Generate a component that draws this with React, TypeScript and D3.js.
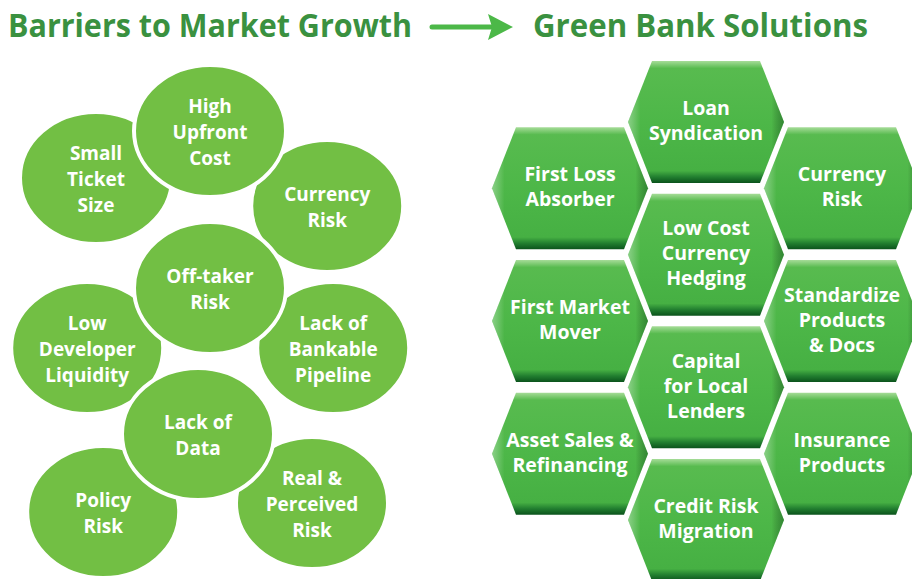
import * as d3 from "d3";
import React from "react";

// left panel: barriers (drawn as ellipses)
const barrierLabels = [
	["Small", "Ticket", "Size"],
	["Currency", "Risk"],
	["Low", "Developer", "Liquidity"],
	["Lack of", "Bankable", "Pipeline"],
	["Policy", "Risk"],
	["Real &", "Perceived", "Risk"],
	["High", "Upfront", "Cost"],
	["Off-taker", "Risk"],
	["Lack of", "Data"],
];
// relative layout units (0..10 wide, 0..10 tall) for each barrier
const barrierGridX = [2.4, 8.18, 2.18, 8.33, 2.58, 7.8, 5.25, 5.25, 4.95];
const barrierGridY = [1.56, 2.12, 4.96, 4.96, 8.24, 8.06, 0.62, 3.76, 6.68];

// right panel: solutions (drawn as hexagons on a hex grid)
const solutionLabels = [
	["Loan", "Syndication"],
	["First Loss", "Absorber"],
	["Currency", "Risk"],
	["Low Cost", "Currency", "Hedging"],
	["First Market", "Mover"],
	["Standardize", "Products", "& Docs"],
	["Capital", "for Local", "Lenders"],
	["Asset Sales &", "Refinancing"],
	["Insurance", "Products"],
	["Credit Risk", "Migration"],
];
const solutionCol = [1, 0, 2, 1, 0, 2, 1, 0, 2, 1];
const solutionRow = [0, 0.5, 0.5, 1, 1.5, 1.5, 2, 2.5, 2.5, 3];

const titleLeft = "Barriers to Market Growth";
const titleRight = "Green Bank Solutions";

export default function App() {
	const svgRef = React.useRef<SVGSVGElement>(null);
	const width = 912;
	const height = 579;

	React.useEffect(() => {
		document.body.style.margin = "0";
		if (!svgRef.current) return;
		const svg = d3.select(svgRef.current);
		svg.selectAll("*").remove();

		const font = "'Open Sans', 'Noto Sans', sans-serif";

		// gradients for hexagons
		const defs = svg.append("defs");
		const grad = defs
			.append("linearGradient")
			.attr("id", "hexGrad")
			.attr("x1", 0)
			.attr("y1", 0)
			.attr("x2", 0)
			.attr("y2", 1);
		[
			[0, "#a6dc98"],
			[0.06, "#58bb4f"],
			[0.5, "#4db748"],
			[0.9, "#46b043"],
			[0.95, "#227f30"],
			[1, "#0b531c"],
		].forEach(([o, c]) =>
			grad.append("stop").attr("offset", o as number).attr("stop-color", c as string),
		);
		const sideGrad = defs
			.append("linearGradient")
			.attr("id", "hexSide")
			.attr("x1", 0)
			.attr("y1", 0)
			.attr("x2", 1)
			.attr("y2", 0);
		[
			[0, "#ffffff", 0.35],
			[0.08, "#ffffff", 0],
			[0.92, "#000000", 0],
			[1, "#003010", 0.35],
		].forEach(([o, c, a]) =>
			sideGrad
				.append("stop")
				.attr("offset", o as number)
				.attr("stop-color", c as string)
				.attr("stop-opacity", a as number),
		);

		// titles
		svg
			.append("text")
			.attr("x", 8)
			.attr("y", 37)
			.attr("font-family", font)
			.attr("font-weight", 700)
			.attr("font-size", 33)
			.attr("fill", "#3a9140")
			.attr("textLength", 404)
			.attr("lengthAdjust", "spacingAndGlyphs")
			.text(titleLeft);
		svg
			.append("text")
			.attr("x", 533)
			.attr("y", 37)
			.attr("font-family", font)
			.attr("font-weight", 700)
			.attr("font-size", 33)
			.attr("fill", "#3a9140")
			.attr("textLength", 335)
			.attr("lengthAdjust", "spacingAndGlyphs")
			.text(titleRight);

		// arrow
		svg
			.append("line")
			.attr("x1", 432)
			.attr("x2", 492)
			.attr("y1", 27)
			.attr("y2", 27)
			.attr("stroke", "#4cb848")
			.attr("stroke-width", 5)
			.attr("stroke-linecap", "round");
		svg
			.append("path")
			.attr("d", "M488,14 L513,27 L488,40 L492,27 Z")
			.attr("fill", "#4cb848");

		// barriers
		const bx = d3.scaleLinear().domain([0, 10]).range([0, 400]);
		const by = d3.scaleLinear().domain([0, 10]).range([100, 600]);
		const rx = 76;
		const ry = 66;
		const bg = svg.append("g");
		barrierLabels.forEach((lines, i) => {
			const cx = bx(barrierGridX[i]);
			const cy = by(barrierGridY[i]);
			bg.append("ellipse")
				.attr("cx", cx)
				.attr("cy", cy)
				.attr("rx", rx)
				.attr("ry", ry)
				.attr("fill", "#72bf44")
				.attr("stroke", "#ffffff")
				.attr("stroke-width", 4);
			const lh = 26;
			lines.forEach((l, j) => {
				bg.append("text")
					.attr("x", cx)
					.attr("y", cy + (j - (lines.length - 1) / 2) * lh + 1)
					.attr("text-anchor", "middle")
					.attr("dominant-baseline", "central")
					.attr("font-family", font)
					.attr("font-weight", 700)
					.attr("font-size", 19)
					.attr("fill", "#ffffff")
					.text(l);
			});
		});

		// solutions
		const hx = d3.scaleLinear().domain([0, 2]).range([570, 842]);
		const hy = d3.scaleLinear().domain([0, 3]).range([122, 520]);
		const hw = 78;
		const hh = 61;
		const inset = 24;
		const hexPath = (cx: number, cy: number) => {
			const p = d3.path();
			p.moveTo(cx - hw, cy);
			p.lineTo(cx - hw + inset, cy - hh);
			p.lineTo(cx + hw - inset, cy - hh);
			p.lineTo(cx + hw, cy);
			p.lineTo(cx + hw - inset, cy + hh);
			p.lineTo(cx - hw + inset, cy + hh);
			p.closePath();
			return p.toString();
		};
		const hg = svg.append("g");
		solutionLabels.forEach((lines, i) => {
			const cx = hx(solutionCol[i]);
			const cy = hy(solutionRow[i]);
			hg.append("path").attr("d", hexPath(cx, cy)).attr("fill", "url(#hexGrad)");
			hg.append("path").attr("d", hexPath(cx, cy)).attr("fill", "url(#hexSide)");
			const lh = 25;
			lines.forEach((l, j) => {
				hg.append("text")
					.attr("x", cx)
					.attr("y", cy + (j - (lines.length - 1) / 2) * lh - 2)
					.attr("text-anchor", "middle")
					.attr("dominant-baseline", "central")
					.attr("font-family", font)
					.attr("font-weight", 700)
					.attr("font-size", 19.5)
					.attr("fill", "#ffffff")
					.text(l);
			});
		});
	}, []);

	return (
		<svg
			ref={svgRef}
			width={width}
			height={height}
			style={{ display: "block", background: "#ffffff" }}
		/>
	);
}
